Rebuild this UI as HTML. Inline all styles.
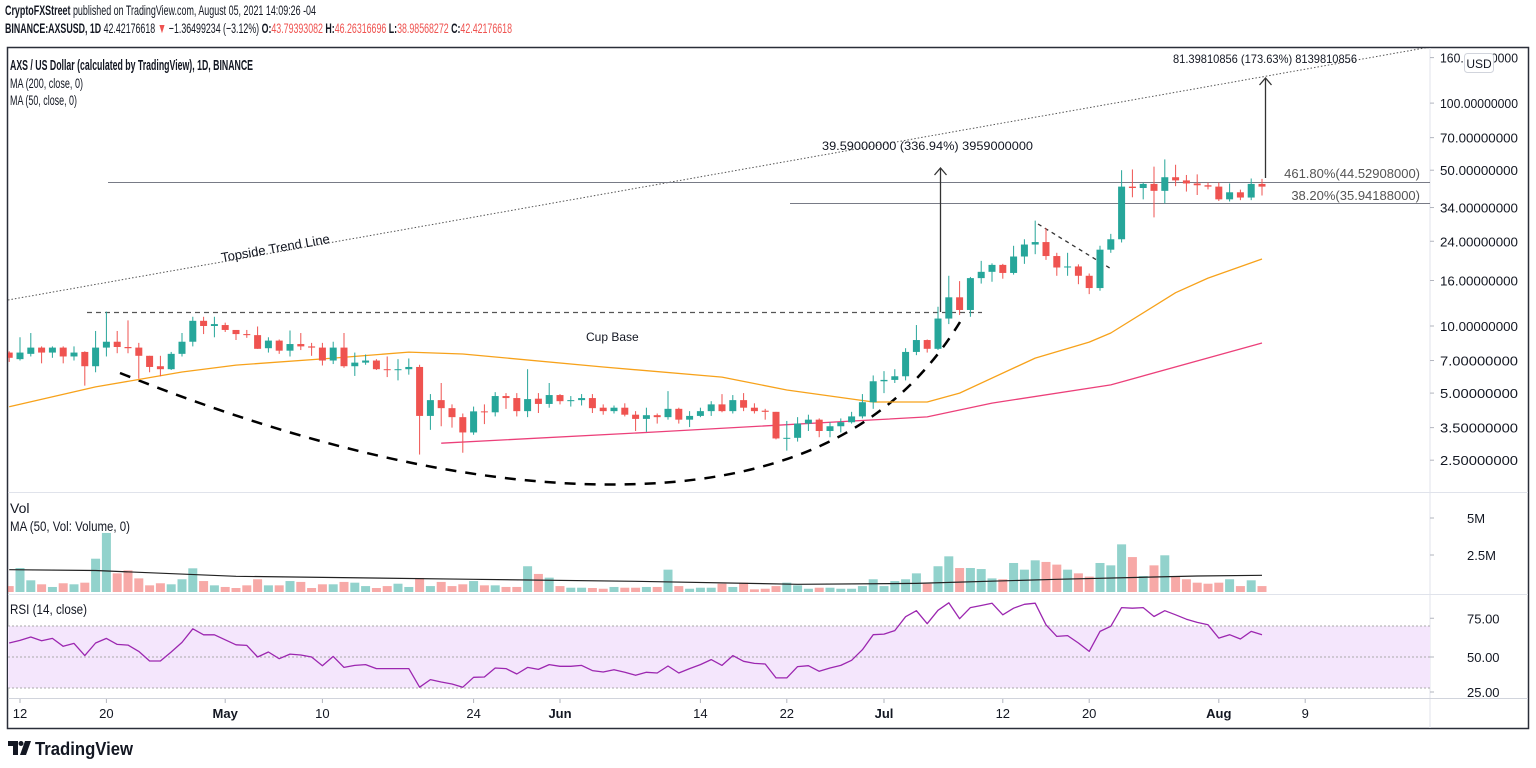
<!DOCTYPE html>
<html><head><meta charset="utf-8"><style>
html,body{margin:0;padding:0;background:#fff;}
svg{display:block;font-family:"Liberation Sans",sans-serif;}
</style></head><body>
<svg id="c" width="1536" height="768" viewBox="0 0 1536 768" xmlns="http://www.w3.org/2000/svg">
<rect x="0" y="0" width="1536" height="768" fill="#fff"/>
<text x="5" y="15" font-size="14" fill="#131722" textLength="311" lengthAdjust="spacingAndGlyphs"><tspan font-weight="bold">CryptoFXStreet</tspan> published on TradingView.com, August 05, 2021 14:09:26 -04</text>
<text x="5" y="33" font-size="14" fill="#131722" textLength="507" lengthAdjust="spacingAndGlyphs"><tspan font-weight="bold">BINANCE:AXSUSD, 1D</tspan> 42.42176618 <tspan fill="#ef5350">▼</tspan> −1.36499234 (−3.12%) <tspan font-weight="bold">O:</tspan><tspan fill="#ef5350">43.79393082</tspan> <tspan font-weight="bold">H:</tspan><tspan fill="#ef5350">46.26316696</tspan> <tspan font-weight="bold">L:</tspan><tspan fill="#ef5350">38.98568272</tspan> <tspan font-weight="bold">C:</tspan><tspan fill="#ef5350">42.42176618</tspan></text>
<rect x="7.5" y="47.5" width="1521" height="681" fill="none" stroke="#2a2e39" stroke-width="1.5"/>
<g id="g"></g>
</svg>
<script>
const opens=[7.6,7.1,7.5,8.0,7.6,8.0,7.3,7.65,6.6,8.0,8.5,8.05,8.0,7.35,6.6,6.4,7.5,8.5,10.55,10.0,10.1,9.6,9.2,9.1,7.95,8.6,7.75,8.3,8.1,8.0,7.0,8.0,6.6,6.85,7.0,6.4,6.35,6.4,6.55,3.95,4.65,4.28,3.9,3.33,4.14,4.1,4.85,4.75,4.15,4.72,4.47,4.9,4.6,4.65,4.75,4.3,4.15,4.3,4.0,3.83,3.98,3.9,4.25,3.8,3.95,4.15,4.45,4.15,4.65,4.3,4.17,4.12,3.13,3.15,3.65,3.8,3.38,3.55,3.7,3.93,4.55,5.65,5.73,5.95,7.65,8.65,7.9,10.8,13.45,11.8,16.4,17.5,18.8,17.3,20.5,23.2,23.8,20.6,18.3,18.5,16.8,14.8,22.0,24.5,42.2,41.6,43.4,40.4,46.5,45.0,43.6,42.8,42.2,37.0,39.8,37.7,43.4];
const highs=[7.7,8.9,9.3,8.1,8.1,8.1,8.1,7.7,9.5,11.6,9.5,10.6,8.4,7.35,7.35,7.65,9.3,11.0,11.0,11.0,10.35,9.6,9.6,9.95,8.9,8.7,9.55,9.3,8.4,8.4,8.5,9.3,7.6,7.45,7.1,7.3,7.1,7.15,6.7,4.95,5.55,4.45,4.05,4.35,4.45,5.05,5.0,5.0,6.4,5.0,5.55,4.95,4.85,4.95,4.95,4.45,4.4,4.5,4.15,4.3,4.05,5.1,4.3,4.15,4.3,4.6,4.95,4.9,5.0,4.5,4.25,4.12,3.75,3.9,4.0,3.85,3.7,3.85,4.12,4.95,6.0,6.27,6.4,7.95,10.1,8.7,12.2,16.8,15.9,16.6,19.6,19.1,19.0,22.9,24.5,29.7,27.5,21.3,21.3,18.9,17.2,22.9,25.9,50.0,50.4,44.0,51.9,55.9,52.9,47.6,47.9,44.0,44.0,43.6,40.9,45.9,45.7];
const lows=[6.9,7.0,7.3,6.8,7.2,6.8,7.0,5.4,6.2,7.3,7.55,7.55,5.8,6.2,5.95,6.35,7.3,8.1,9.2,8.9,9.4,8.65,8.85,7.9,7.6,7.5,7.3,7.8,7.35,6.65,6.75,6.5,5.97,6.7,6.35,5.9,5.7,6.05,2.65,3.42,3.55,3.5,2.7,3.25,3.63,3.93,4.25,3.93,3.9,4.07,4.3,4.45,4.35,4.4,4.07,4.0,4.05,3.93,3.38,3.35,3.65,3.8,3.65,3.52,3.9,3.95,4.1,4.05,4.15,4.05,3.8,3.1,2.76,3.03,3.38,3.17,3.17,3.33,3.65,3.85,4.25,5.0,5.55,5.7,7.4,7.6,7.8,10.2,11.2,11.0,15.5,15.8,16.3,17.0,19.0,21.0,19.8,16.8,16.8,15.4,13.9,14.4,21.3,23.7,37.8,37.0,30.7,35.5,42.4,40.1,38.7,41.0,36.4,36.2,36.7,36.7,38.5];
const closes=[7.2,7.6,8.0,7.6,8.0,7.3,7.6,6.6,8.0,8.5,8.05,7.95,7.35,6.55,6.4,7.5,8.5,10.55,10.0,10.2,9.6,9.2,9.1,7.9,8.6,7.75,8.3,8.1,8.0,7.0,8.0,6.6,6.85,7.0,6.4,6.35,6.4,6.55,3.95,4.65,4.28,3.9,3.33,4.14,4.1,4.85,4.75,4.15,4.7,4.47,4.9,4.6,4.65,4.75,4.28,4.15,4.3,4.0,3.83,3.98,3.9,4.25,3.8,3.95,4.15,4.45,4.15,4.65,4.3,4.15,4.12,3.13,3.15,3.65,3.8,3.38,3.55,3.7,3.93,4.55,5.65,5.73,5.95,7.65,8.65,7.9,10.8,13.45,11.8,16.4,17.5,18.8,17.3,20.5,23.2,23.8,20.6,18.3,18.5,16.8,14.8,22.0,24.5,42.2,41.6,43.4,40.4,46.5,45.0,43.6,42.8,42.2,37.0,39.8,37.7,43.4,42.2];
const volumes=[0.4,1.62,0.79,0.52,0.34,0.59,0.52,0.63,2.25,3.99,1.26,1.46,0.92,0.45,0.59,0.52,0.86,1.6,0.74,0.45,0.34,0.27,0.45,0.86,0.45,0.45,0.74,0.68,0.27,0.52,0.52,0.68,0.63,0.4,0.27,0.4,0.56,0.34,0.95,0.4,0.68,0.4,0.52,0.74,0.45,0.45,0.34,0.34,1.74,1.22,0.97,0.4,0.29,0.29,0.27,0.22,0.34,0.29,0.29,0.34,0.34,1.51,0.4,0.22,0.29,0.29,0.56,0.34,0.63,0.18,0.22,0.4,0.63,0.45,0.22,0.29,0.29,0.22,0.22,0.4,0.86,0.4,0.74,0.86,1.26,0.56,1.74,2.41,1.62,1.62,1.55,0.92,0.86,1.96,1.51,2.14,2.03,1.85,1.51,1.26,1.04,1.96,1.8,3.22,2.36,1.08,1.8,2.48,1.08,0.86,0.63,0.56,0.63,0.86,0.4,0.79,0.4];
const rsiValues=[59,60.7,62.9,60.5,62,56.9,58.8,50.9,59,62,58.1,57.7,53.6,47.4,47.4,53.2,59.4,68.2,64.3,64.3,61.1,57.9,57.5,50,53.2,48.9,51.9,51.3,50,44.4,50.4,43.3,44.6,45.1,42.5,42.5,42.5,42.5,30.5,35.4,33.9,32.6,30.5,36.9,37.1,42.9,42.5,39,43.3,42,45.1,44,44,44.6,41.2,40.3,41.8,40.1,38.2,40.1,39.7,44.2,39.7,42.5,45.1,48.3,44.6,50.9,47.2,45.9,45.5,36.5,36.5,43.8,44.4,40.8,42.9,44.6,47.9,54.7,64.4,64.8,67,76,79.9,71.5,80.1,85,74.7,81.9,83.2,84.7,77.2,81.5,84,84.7,70.8,63.3,63.8,59,53.6,66.5,69.8,81.9,81.5,81.9,76.1,79.9,77.2,74.4,72.3,70.8,62.2,64.4,61.6,66.5,64.4];
const ma50Days=[-1,7,15,20,29,36,41,42,54,65,71,79,84,87,94,99,101,107,110,115];
const ma50Values=[4.34,5.33,6.22,6.68,7.18,7.64,7.49,7.41,6.55,5.9,5.16,4.56,4.56,5.0,7.18,8.47,9.3,14.1,16.4,19.97];
const ma200Days=[39,59,79,84,90,101,115];
const ma200Values=[2.98,3.35,3.79,3.91,4.51,5.44,8.39];
const volMaDays=[-1,7,20,42,57,72,83,96,109,115];
const volMaValues=[1.51,1.45,1.06,0.86,0.72,0.52,0.58,0.86,1.08,1.13];
const priceTicks=[160,100,70,50,34,24,16,10,7,5,3.5,2.5];
const volTicks=[5,2.5];
const volTickLabels=["5M","2.5M"];
const rsiTicks=[75,50,25];
const timeDays=[0,8,19,28,42,50,63,71,80,91,99,111,119];
const timeLabels=["12","20","May","10","24","Jun","14","22","Jul","12","20","Aug","9"];

const NS="http://www.w3.org/2000/svg";
const G=document.getElementById('g');
const PL=8,PR=1430;
function xDay(d){return 20+d*10.8;}
function yPrice(p){return 326-96.8*Math.log(p/10);}
function yVol(v){return 592-14.8*v;}
function yRsi(v){return 657-(v-50)*1.55;}
function mk(tag,attrs,parent){const e=document.createElementNS(NS,tag);for(const k in attrs)e.setAttribute(k,attrs[k]);(parent||G).appendChild(e);return e;}
function txt(s,attrs,parent){const e=mk('text',attrs,parent);e.textContent=s;return e;}

const defs=mk('defs',{});
const cp=mk('clipPath',{id:'pc'},defs);mk('rect',{x:PL,y:48,width:PR-PL,height:443},cp);
const cv=mk('clipPath',{id:'vc'},defs);mk('rect',{x:PL,y:494,width:PR-PL,height:98},cv);
const cr=mk('clipPath',{id:'rc'},defs);mk('rect',{x:PL,y:596,width:PR-PL,height:102},cr);

let e;
e=mk('line',{x1:PR,y1:48,x2:PR,y2:728,stroke:'#e0e3eb','stroke-width':1});

e=mk('line',{x1:PL,y1:492.5,x2:1528,y2:492.5,stroke:'#e0e3eb'});

e=mk('line',{x1:PL,y1:594.5,x2:1528,y2:594.5,stroke:'#e0e3eb'});

e=mk('line',{x1:PL,y1:698.5,x2:1528,y2:698.5,stroke:'#d1d4dc'});


const pg=mk('g',{'clip-path':'url(#pc)'});


e=mk('line',{x1:PL,y1:300,x2:PR,y2:47,stroke:'#555','stroke-width':1,'stroke-dasharray':'1.5,2'},pg);

e=txt('Topside Trend Line',{x:222,y:262,'font-size':13,fill:'#131722',transform:'rotate(-10 222 262)'},pg);

e=mk('line',{x1:108,y1:182.5,x2:PR,y2:182.5,stroke:'#787b86','stroke-width':1},pg);

e=txt('461.80%(44.52908000)',{x:1420,y:178,'font-size':13,fill:'#555','text-anchor':'end'},pg);

e=mk('line',{x1:790,y1:203.5,x2:PR,y2:203.5,stroke:'#787b86','stroke-width':1},pg);

e=txt('38.20%(35.94188000)',{x:1420,y:200,'font-size':13,fill:'#555','text-anchor':'end'},pg);

e=mk('line',{x1:87,y1:312.5,x2:982,y2:312.5,stroke:'#555','stroke-width':1.3,'stroke-dasharray':'5,4'},pg);

e=mk('path',{d:'M120,373 C300,445 480,490 640,484 C800,478 900,420 960,322',fill:'none',stroke:'#000','stroke-width':2.5,'stroke-dasharray':'11,9'},pg);

e=txt('Cup Base',{x:586,y:341,'font-size':12,fill:'#131722'},pg);

e=mk('line',{x1:1038,y1:224,x2:1113,y2:270,stroke:'#333','stroke-width':1.3,'stroke-dasharray':'4,4'},pg);

function arrow(x,y1,y2,name){const g2=mk('g',{},pg);

mk('line',{x1:x,y1:y1,x2:x,y2:y2,stroke:'#333','stroke-width':1.3},g2);
mk('path',{d:`M${x-6},${y2+7} L${x},${y2} L${x+6},${y2+7}`,fill:'none',stroke:'#333','stroke-width':1.3},g2);}
arrow(940.5,312,168,'measure-arrow-1');
arrow(1265.5,178,78,'measure-arrow-2');
e=txt('39.59000000 (336.94%) 3959000000',{x:822,y:150,'font-size':12,fill:'#131722',textLength:211,lengthAdjust:'spacingAndGlyphs'},pg);

e=txt('81.39810856 (173.63%) 8139810856',{x:1173,y:63,'font-size':12,fill:'#131722',textLength:184,lengthAdjust:'spacingAndGlyphs'},pg);


function linePath(days,vals,yf){return days.map((d,i)=>(i?'L':'M')+xDay(d).toFixed(1)+','+yf(vals[i]).toFixed(1)).join(' ');}
e=mk('path',{d:linePath(ma50Days,ma50Values,yPrice),fill:'none',stroke:'#f7a21b','stroke-width':1.3,'stroke-linejoin':'round'},pg);

e=mk('path',{d:linePath(ma200Days,ma200Values,yPrice),fill:'none',stroke:'#ec407a','stroke-width':1.3},pg);


for(let i=0;i<opens.length;i++){
 const x=xDay(i-1),up=closes[i]>=opens[i],col=up?'#26a69a':'#ef5350';
 const c=mk('g',{},pg);
 
 
 mk('line',{x1:x,y1:yPrice(highs[i]),x2:x,y2:yPrice(lows[i]),stroke:col,'stroke-width':1},c);
 const t=yPrice(Math.max(opens[i],closes[i])),b=yPrice(Math.min(opens[i],closes[i]));
 mk('rect',{x:x-3.5,y:t,width:7,height:Math.max(1,b-t),fill:col},c);
}

priceTicks.forEach(p=>{const y=yPrice(p);
 mk('line',{x1:PR,y1:y,x2:PR+4,y2:y,stroke:'#b2b5be'});
 e=txt(p.toFixed(8),{x:1440,y:y+5,'font-size':13,fill:'#131722',textLength:78,lengthAdjust:'spacingAndGlyphs'});
 
 
});
e=mk('rect',{x:1464.5,y:53.5,width:29,height:19,rx:3,fill:'#fff',stroke:'#d1d4dc'});

e=txt('USD',{x:1479,y:68,'font-size':12,fill:'#131722','text-anchor':'middle'});


e=txt('AXS / US Dollar (calculated by TradingView), 1D, BINANCE',{x:10,y:70,'font-size':15,'font-weight':'bold',fill:'#131722',textLength:243,lengthAdjust:'spacingAndGlyphs'});

e=txt('MA (200, close, 0)',{x:10,y:88,'font-size':14,fill:'#131722',textLength:73,lengthAdjust:'spacingAndGlyphs'});

e=txt('MA (50, close, 0)',{x:10,y:105,'font-size':14,fill:'#131722',textLength:67,lengthAdjust:'spacingAndGlyphs'});


const vg=mk('g',{'clip-path':'url(#vc)'});

for(let i=0;i<volumes.length;i++){const x=xDay(i-1),up=closes[i]>=opens[i];
 e=mk('rect',{x:x-4.5,y:yVol(volumes[i]),width:9,height:592-yVol(volumes[i]),fill:up?'rgba(38,166,154,0.5)':'rgba(239,83,80,0.5)'},vg);
 
 
}
e=mk('path',{d:linePath(volMaDays,volMaValues,yVol),fill:'none',stroke:'#222','stroke-width':1.2},vg);

e=txt('Vol',{x:10,y:513,'font-size':14,fill:'#131722'});

e=txt('MA (50, Vol: Volume, 0)',{x:10,y:531,'font-size':14,fill:'#131722',textLength:120,lengthAdjust:'spacingAndGlyphs'});

volTicks.forEach((v,i)=>{const y=yVol(v);
 mk('line',{x1:PR,y1:y,x2:PR+4,y2:y,stroke:'#b2b5be'});
 e=txt(volTickLabels[i],{x:1467,y:y+5,'font-size':13,fill:'#131722'});
 
 
});

const rg=mk('g',{'clip-path':'url(#rc)'});

e=mk('rect',{x:PL,y:yRsi(70),width:PR-PL,height:yRsi(30)-yRsi(70),fill:'#f4e6fc'},rg);

[70,50,30].forEach(v=>{e=mk('line',{x1:PL,y1:yRsi(v),x2:PR,y2:yRsi(v),stroke:'#aaa','stroke-dasharray':'2,2'},rg);
 
 });
e=mk('path',{d:rsiValues.map((v,i)=>(i?'L':'M')+xDay(i-1).toFixed(1)+','+yRsi(v).toFixed(1)).join(' '),fill:'none',stroke:'#9c27b0','stroke-width':1.3,'stroke-linejoin':'round'},rg);

e=txt('RSI (14, close)',{x:10,y:614,'font-size':14,fill:'#131722',textLength:77,lengthAdjust:'spacingAndGlyphs'});

rsiTicks.forEach(v=>{const y=Math.min(yRsi(v),692);
 mk('line',{x1:PR,y1:y,x2:PR+4,y2:y,stroke:'#b2b5be'});
 e=txt(v.toFixed(2),{x:1467,y:y+5,'font-size':13,fill:'#131722'});
 
 
});

timeDays.forEach((d,i)=>{const x=xDay(d);
 mk('line',{x1:x,y1:699,x2:x,y2:703,stroke:'#b2b5be'});
 const isMonth=isNaN(+timeLabels[i]);
 e=txt(timeLabels[i],{x:x,y:718,'font-size':13,fill:'#131722','text-anchor':'middle','font-weight':isMonth?'bold':'normal'});
 
 
});

const lg=mk('g',{});

mk('path',{d:'M8,741 H18 V755 H13 V746 H8 Z',fill:'#131722'},lg);
mk('circle',{cx:21,cy:743.5,r:2.5,fill:'#131722'},lg);
mk('path',{d:'M25,741 H31 L26,755 H20 Z',fill:'#131722'},lg);
e=txt('TradingView',{x:35,y:755,'font-size':18,'font-weight':'bold',fill:'#131722',textLength:98,lengthAdjust:'spacingAndGlyphs'},lg);


</script>
</body></html>
